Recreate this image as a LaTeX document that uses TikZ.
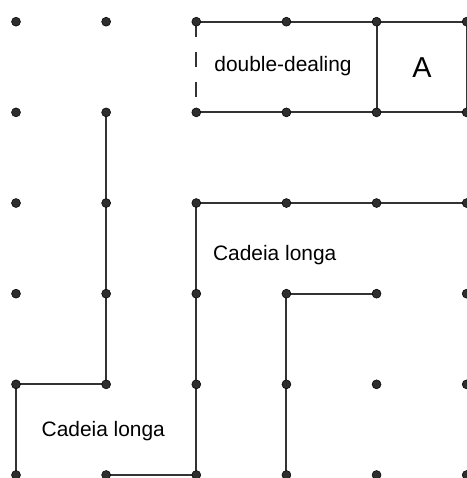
\documentclass[tikz,border=0pt]{standalone}
\usepackage{fontspec}
\setmainfont{Liberation Sans}
\begin{document}
\begin{tikzpicture}[x=0.02cm,y=-0.02cm,
  edge/.style={draw=black!80, line width=1.1pt},
  dashedge/.style={edge, dash pattern=on 8.5pt off 8.8pt},
  gridpt/.style={circle, fill=black!82, draw=black, line width=0.3pt,
    inner sep=0pt, minimum size=5.1pt},
  lbl/.style={anchor=base, inner sep=0pt, font=\fontsize{11.9}{14}\selectfont},
  biglbl/.style={anchor=base, inner sep=0pt, font=\fontsize{16.4}{19}\selectfont}]
\useasboundingbox (0,0) rectangle (467,478);

% lattice points
\foreach \i in {0,...,5}
  \foreach \j in {0,...,5}
    \coordinate (p-\i-\j) at ({16+90.14*\i},{21.7+90.66*\j});

% upper box
\draw[edge] (p-2-0) -- (p-5-0);
\draw[edge] (p-2-1) -- (p-5-1);
\draw[edge] (p-4-0) -- (p-4-1);
\draw[edge] (p-5-0) -- (p-5-1);
\draw[dashedge] (p-2-0) -- (p-2-1);

% left chain
\draw[edge] (p-1-1) -- (p-1-4) -- (p-0-4) -- (p-0-5);
\draw[edge] (p-1-5) -- (p-2-5) -- (p-2-2) -- (p-5-2);

% inner chain
\draw[edge] (p-4-3) -- (p-3-3) -- (p-3-5);

% dots
\foreach \i in {0,...,5}
  \foreach \j in {0,...,5}
    \node[gridpt] (d-\i-\j) at (p-\i-\j) {};

% labels
\node[lbl] (dd) at (283,71) {double-dealing};
\node[biglbl] (a) at (422,77.7) {A};
\node[lbl] (c1) at (274.7,260) {Cadeia longa};
\node[lbl] (c2) at (103.3,436) {Cadeia longa};
\end{tikzpicture}
\end{document}
